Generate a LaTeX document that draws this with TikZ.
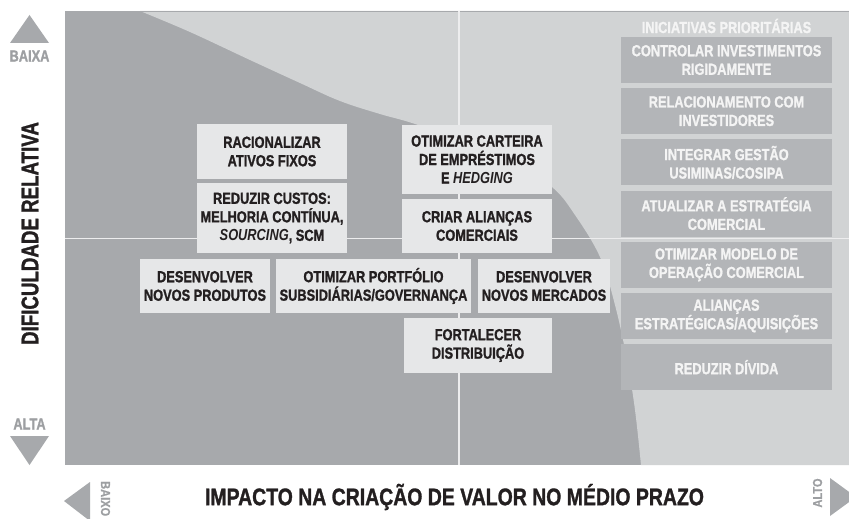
\documentclass[tikz,border=0pt]{standalone}
\usepackage{fontspec}
\newfontfamily\condf[FakeStretch=0.80, BoldFeatures={FakeBold=1.2}]{Liberation Sans}
\newfontfamily\condx[FakeStretch=0.81, BoldFeatures={FakeBold=1.2}]{Liberation Sans}
\newfontfamily\condy[FakeStretch=0.78, BoldFeatures={FakeBold=1.2}]{Liberation Sans}
\newfontfamily\conds[FakeStretch=0.85, BoldFeatures={FakeBold=0.6}]{Liberation Sans}
\definecolor{darkbg}{HTML}{A7A9AC}
\definecolor{lightbg}{HTML}{D1D3D4}
\definecolor{boxfill}{HTML}{E6E7E8}
\definecolor{rbox}{HTML}{B3B5B8}
\definecolor{ink}{HTML}{231F20}
\definecolor{axisgray}{HTML}{A7A9AC}
\definecolor{axistext}{HTML}{9D9FA2}
\definecolor{rtext}{HTML}{F4F4F4}
\definecolor{divider}{HTML}{EDEDEE}
\begin{document}
\begin{tikzpicture}[x=1pt,y=-1pt,
  boxfont/.style={font=\condf\bfseries\fontsize{16}{18.5}\selectfont},
  cbox/.style={boxfont, fill=boxfill, text=ink, inner sep=0pt, align=center},
  rcbox/.style={boxfont, fill=rbox, text=rtext, inner sep=0pt, align=center, minimum width=211pt, minimum height=46pt},
  axlabel/.style={font=\condf\bfseries\fontsize{16}{18}\selectfont, text=axistext, inner sep=0pt},
  axsmall/.style={font=\conds\bfseries\fontsize{13}{15}\selectfont, text=axistext, inner sep=0pt},
  xtitle/.style={font=\condx\bfseries\fontsize{24}{28}\selectfont, text=ink, inner sep=0pt},
  ytitle/.style={font=\condy\bfseries\fontsize{24}{28}\selectfont, text=ink, inner sep=0pt}]
\useasboundingbox (0,0) rectangle (849,519);
\fill[white] (0,0) rectangle (849,519);
% plot background
\fill[darkbg] (65,11) rectangle (849,465);
\fill[lightbg] plot[smooth, tension=0.6] coordinates {(140,11) (190,32) (250,60) (300,83) (340,101) (380,114) (412,123) (460,140) (510,160) (552,187) (575,215) (600,257) (615,305) (627,360) (635,410) (641,465)}
  -- (849,465) -- (849,11) -- cycle;
\draw[darkbg, line width=0.8pt] (65,11) -- (849,11);
% dividers
\draw[divider, line width=1.5pt] (65,238.5) -- (849,238.5);
\draw[divider, line width=1.5pt] (459,11) -- (459,465);
% central boxes
\node[cbox, minimum width=150pt, minimum height=55pt] (rac) at (272,151.5) {RACIONALIZAR\\ATIVOS FIXOS};
\node[cbox, minimum width=150pt, minimum height=70pt] (red) at (272,218) {REDUZIR CUSTOS:\\MELHORIA CONTÍNUA,\\\textit{SOURCING}, SCM};
\node[cbox, minimum width=150pt, minimum height=69pt] (otc) at (477,159.5) {OTIMIZAR CARTEIRA\\DE EMPRÉSTIMOS\\E \textit{HEDGING}};
\node[cbox, minimum width=150pt, minimum height=54pt] (cri) at (477,226) {CRIAR ALIANÇAS\\COMERCIAIS};
\node[cbox, minimum width=130pt, minimum height=54pt] (dnp) at (205,286) {DESENVOLVER\\NOVOS PRODUTOS};
\node[cbox, minimum width=195pt, minimum height=54pt] (opo) at (373.5,286) {OTIMIZAR PORTFÓLIO\\SUBSIDIÁRIAS/GOVERNANÇA};
\node[cbox, minimum width=132pt, minimum height=54pt] (dnm) at (544,286) {DESENVOLVER\\NOVOS MERCADOS};
\node[cbox, minimum width=148pt, minimum height=55pt] (for) at (478,345.5) {FORTALECER\\DISTRIBUIÇÃO};
% right column
\node[boxfont, text=rtext, inner sep=0pt] (hdr) at (726.5,26) {INICIATIVAS PRIORITÁRIAS};
\node[rcbox] (r1) at (726.5,60) {CONTROLAR INVESTIMENTOS\\RIGIDAMENTE};
\node[rcbox] (r2) at (726.5,111.2) {RELACIONAMENTO COM\\INVESTIDORES};
\node[rcbox] (r3) at (726.5,162.4) {INTEGRAR GESTÃO\\USIMINAS/COSIPA};
\node[rcbox] (r4) at (726.5,213.6) {ATUALIZAR A ESTRATÉGIA\\COMERCIAL};
\node[rcbox] (r5) at (726.5,264.8) {OTIMIZAR MODELO DE\\OPERAÇÃO COMERCIAL};
\node[rcbox] (r6) at (726.5,316) {ALIANÇAS\\ESTRATÉGICAS/AQUISIÇÕES};
\node[rcbox] (r7) at (726.5,367.2) {REDUZIR DÍVIDA};
% vertical axis
\fill[axisgray] (10,43) -- (49,43) -- (29.5,15) -- cycle;
\node[axlabel] (baixa) at (29.5,56) {BAIXA};
\node[ytitle, rotate=90] (ylab) at (30,233.5) {DIFICULDADE RELATIVA};
\node[axlabel] (alta) at (29.5,424) {ALTA};
\fill[axisgray] (10,436) -- (49,436) -- (29.5,465) -- cycle;
% horizontal axis
\fill[axisgray] (64,501) -- (90,482) -- (90,521) -- cycle;
\node[axsmall, rotate=-90, anchor=west] (baixo) at (105.5,481) {BAIXO};
\node[xtitle] (xlab) at (454.5,497) {IMPACTO NA CRIAÇÃO DE VALOR NO MÉDIO PRAZO};
\node[axsmall, rotate=90] (alto) at (817.5,493) {ALTO};
\fill[axisgray] (856,497) -- (830,478) -- (830,516) -- cycle;
\end{tikzpicture}
\end{document}
